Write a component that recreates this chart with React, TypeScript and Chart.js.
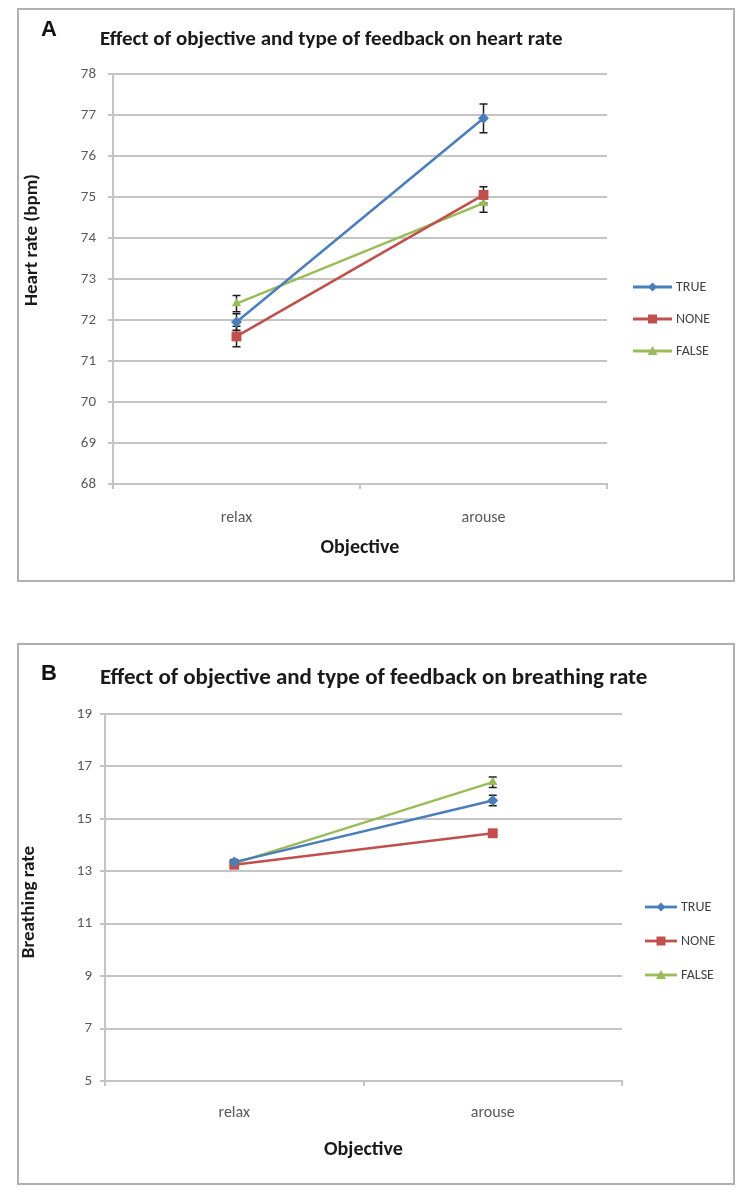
import React, { useEffect, useRef } from 'react';
import { Chart, registerables } from 'chart.js';

Chart.register(...registerables);

// ---------- data ----------
const categories = ['relax', 'arouse'];
const seriesNames = ['TRUE', 'NONE', 'FALSE'];
const seriesColors = ['#4a7ebb', '#c0504d', '#9bbb59'];
const seriesMarkers = ['rectRot', 'rect', 'triangle'];

const heartTitle = 'Effect of objective and type of feedback on heart rate';
const heartYTitle = 'Heart rate (bpm)';
const heartTrue = [71.95, 76.92];
const heartNone = [71.6, 75.05];
const heartFalse = [72.4, 74.85];
const heartTrueErr = [0.2, 0.35];
const heartNoneErr = [0.25, 0.2];
const heartFalseErr = [0.2, 0.22];
const heartYRange = [68, 78, 1];

const breathTitle = 'Effect of objective and type of feedback on breathing rate';
const breathYTitle = 'Breathing rate';
const breathTrue = [13.35, 15.7];
const breathNone = [13.25, 14.45];
const breathFalse = [13.3, 16.4];
const breathTrueErr = [0.1, 0.2];
const breathNoneErr = [0.1, 0.12];
const breathFalseErr = [0.1, 0.2];
const breathYRange = [5, 19, 2];

const xTitle = 'Objective';

const FONT = "Carlito, Lato, 'Open Sans', sans-serif";

// ---------- plugin: error bars, titles, legend ----------
const overlayPlugin = {
  id: 'overlay',
  beforeDatasetsDraw(chart: any, _args: any, opts: any) {
    const { ctx } = chart;
    const y = chart.scales.y;
    chart.data.datasets.forEach((ds: any, i: number) => {
      const meta = chart.getDatasetMeta(i);
      const errs = opts.errors[i];
      meta.data.forEach((pt: any, j: number) => {
        const v = ds.data[j];
        const e = errs[j];
        const yT = y.getPixelForValue(v + e);
        const yB = y.getPixelForValue(v - e);
        ctx.save();
        ctx.strokeStyle = '#1e1e1e';
        ctx.lineWidth = 1.5;
        ctx.beginPath();
        ctx.moveTo(pt.x, yT);
        ctx.lineTo(pt.x, yB);
        ctx.moveTo(pt.x - 4, yT);
        ctx.lineTo(pt.x + 4, yT);
        ctx.moveTo(pt.x - 4, yB);
        ctx.lineTo(pt.x + 4, yB);
        ctx.stroke();
        ctx.restore();
      });
    });
  },
  afterDraw(chart: any, _args: any, opts: any) {
    const { ctx } = chart;
    ctx.save();
    // chart title
    ctx.fillStyle = '#1a1a1a';
    ctx.font = `bold ${opts.titleSize}px ${FONT}`;
    ctx.textAlign = 'left';
    ctx.textBaseline = 'middle';
    ctx.fillText(opts.title, opts.titleX, opts.titleY);
    // y axis title
    ctx.save();
    ctx.translate(opts.yTitleX, opts.yTitleY);
    ctx.rotate(-Math.PI / 2);
    ctx.font = `bold ${opts.yTitleSize}px ${FONT}`;
    ctx.textAlign = 'center';
    ctx.textBaseline = 'middle';
    ctx.fillText(opts.yTitle, 0, 0);
    ctx.restore();
    // legend
    chart.data.datasets.forEach((ds: any, i: number) => {
      const yy = opts.legendY[i];
      const x0 = opts.legendX0;
      const x1 = opts.legendX1;
      ctx.strokeStyle = ds.borderColor;
      ctx.lineWidth = 2.8;
      ctx.beginPath();
      ctx.moveTo(x0, yy);
      ctx.lineTo(x1, yy);
      ctx.stroke();
      const cx = (x0 + x1) / 2;
      ctx.fillStyle = ds.backgroundColor;
      ctx.beginPath();
      const style = ds.pointStyle;
      if (style === 'rect') {
        ctx.rect(cx - 4.5, yy - 4.5, 9, 9);
      } else if (style === 'rectRot') {
        ctx.moveTo(cx, yy - 4.5);
        ctx.lineTo(cx + 4.5, yy);
        ctx.lineTo(cx, yy + 4.5);
        ctx.lineTo(cx - 4.5, yy);
        ctx.closePath();
      } else {
        ctx.moveTo(cx, yy - 5);
        ctx.lineTo(cx + 5, yy + 4);
        ctx.lineTo(cx - 5, yy + 4);
        ctx.closePath();
      }
      ctx.fill();
      ctx.fillStyle = '#404040';
      ctx.font = `14px ${FONT}`;
      ctx.textAlign = 'left';
      ctx.textBaseline = 'middle';
      ctx.fillText(seriesNames[i], opts.legendTextX, yy);
    });
    ctx.restore();
  },
};

type PanelProps = {
  width: number;
  height: number;
  title: string;
  titleSize: number;
  titleX: number;
  titleY: number;
  yTitle: string;
  yTitleX: number;
  yTitleY: number;
  values: number[][];
  errors: number[][];
  yRange: number[];
  area: { left: number; right: number; top: number; bottom: number };
  yTickPad: number;
  xTickPad: number;
  xTitlePad: number;
  legendX0: number;
  legendX1: number;
  legendTextX: number;
  legendY: number[];
};

function Panel(p: PanelProps) {
  const ref = useRef<HTMLCanvasElement | null>(null);
  useEffect(() => {
    if (!ref.current) return;
    const grid = '#c4c4c4';
    const chart = new Chart(ref.current, {
      type: 'line',
      data: {
        labels: categories,
        datasets: seriesNames.map((name, i) => ({
          label: name,
          data: p.values[i],
          borderColor: seriesColors[i],
          backgroundColor: seriesColors[i],
          borderWidth: 2.5,
          pointStyle: seriesMarkers[i] as any,
          pointRadius: i === 1 ? 7 : 5.5,
          pointBorderWidth: 0,
          tension: 0,
        })),
      },
      options: {
        animation: false,
        responsive: false,
        maintainAspectRatio: false,
        layout: {
          padding: {
            left: 0,
            top: p.area.top,
            right: p.width - p.area.right,
            bottom: 0,
          },
        },
        plugins: {
          legend: { display: false },
          title: { display: false },
          tooltip: { enabled: false },
          overlay: {
            errors: p.errors,
            title: p.title,
            titleX: p.titleX,
            titleY: p.titleY,
            titleSize: p.titleSize,
            yTitle: p.yTitle,
            yTitleX: p.yTitleX,
            yTitleY: p.yTitleY,
            yTitleSize: 19,
            legendX0: p.legendX0,
            legendX1: p.legendX1,
            legendTextX: p.legendTextX,
            legendY: p.legendY,
          },
        } as any,
        scales: {
          x: {
            type: 'category',
            offset: true,
            afterFit: (s: any) => {
              s.height = p.height - p.area.bottom;
            },
            grid: {
              offset: true,
              drawOnChartArea: false,
              drawTicks: true,
              tickLength: 5,
              color: grid,
              lineWidth: 2,
            },
            border: { color: grid, width: 2 },
            ticks: {
              padding: p.xTickPad,
              color: '#595959',
              font: { family: FONT, size: 16 },
            },
            title: {
              display: true,
              text: xTitle,
              color: '#1a1a1a',
              font: { family: FONT, size: 20, weight: 'bold' },
              padding: { top: 0, bottom: p.xTitlePad },
            },
          },
          y: {
            min: p.yRange[0],
            max: p.yRange[1],
            afterFit: (s: any) => {
              s.width = p.area.left;
            },
            grid: {
              color: grid,
              lineWidth: 2,
              tickLength: 5,
            },
            border: { color: grid, width: 2 },
            ticks: {
              stepSize: p.yRange[2],
              padding: p.yTickPad,
              color: '#595959',
              font: { family: FONT, size: 15 },
            },
          },
        },
      },
      plugins: [overlayPlugin],
    });
    return () => chart.destroy();
  }, []);
  return <canvas ref={ref} width={p.width} height={p.height} style={{ display: 'block', width: p.width, height: p.height }} />;
}

const boxStyle = (top: number, height: number): React.CSSProperties => ({
  position: 'absolute',
  left: 9,
  top,
  width: 714,
  height,
  border: '2px solid #b0b0b0',
  background: '#fff',
});

const letterStyle = (top: number): React.CSSProperties => ({
  position: 'absolute',
  left: 33,
  top,
  fontFamily: 'Arial, "Liberation Sans", sans-serif',
  fontWeight: 'bold',
  fontSize: 22,
  lineHeight: '22px',
  color: '#111',
});

export default function App() {
  return (
    <div style={{ position: 'relative', width: 738, height: 1186, background: '#fff' }}>
      <div style={boxStyle(0, 570)}>
        <Panel
          width={714}
          height={570}
          title={heartTitle}
          titleSize={21}
          titleX={81}
          titleY={30}
          yTitle={heartYTitle}
          yTitleX={13}
          yTitleY={230}
          values={[heartTrue, heartNone, heartFalse]}
          errors={[heartTrueErr, heartNoneErr, heartFalseErr]}
          yRange={heartYRange}
          area={{ left: 94, right: 588, top: 64, bottom: 474 }}
          yTickPad={12}
          xTickPad={19}
          xTitlePad={20}
          legendX0={614}
          legendX1={653}
          legendTextX={657}
          legendY={[277, 309, 341]}
        />
      </div>
      <div style={boxStyle(635, 538)}>
        <Panel
          width={714}
          height={538}
          title={breathTitle}
          titleSize={23}
          titleX={81}
          titleY={33}
          yTitle={breathYTitle}
          yTitleX={10}
          yTitleY={257}
          values={[breathTrue, breathNone, breathFalse]}
          errors={[breathTrueErr, breathNoneErr, breathFalseErr]}
          yRange={breathYRange}
          area={{ left: 86, right: 603, top: 69, bottom: 436 }}
          yTickPad={8}
          xTickPad={17}
          xTitlePad={21}
          legendX0={626}
          legendX1={658}
          legendTextX={662}
          legendY={[262, 296, 330]}
        />
      </div>
      <div style={letterStyle(10)}>A</div>
      <div style={letterStyle(654)}>B</div>
    </div>
  );
}
